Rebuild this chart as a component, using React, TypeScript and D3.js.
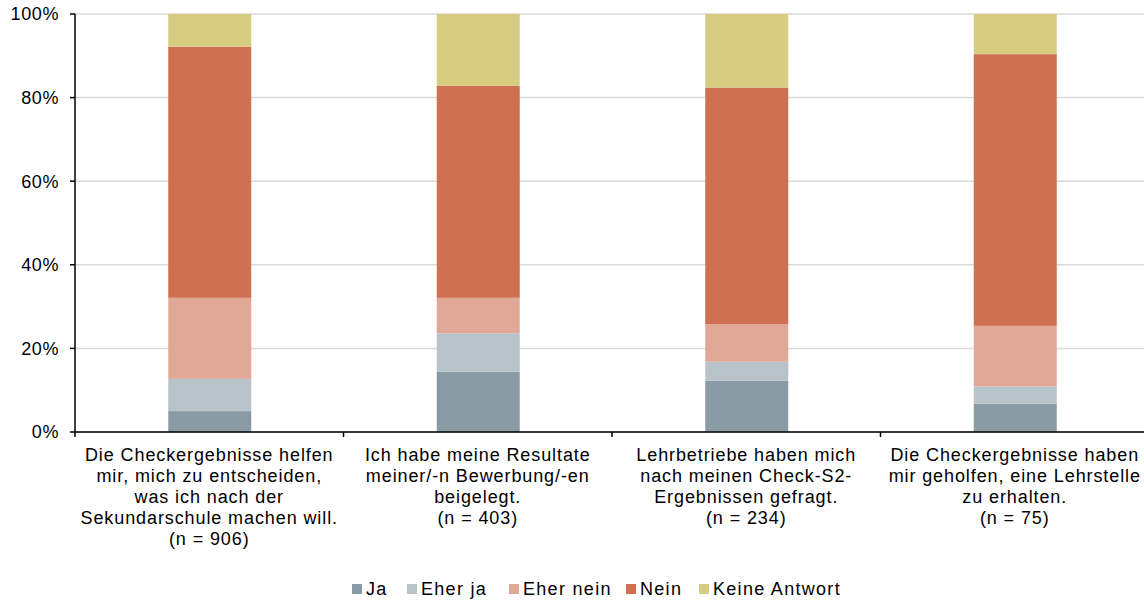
import React from "react";
import * as d3 from "d3";

const categories = [
  ["Die Checkergebnisse helfen", "mir, mich zu entscheiden,", "was ich nach der", "Sekundarschule machen will.", "(n = 906)"],
  ["Ich habe meine Resultate", "meiner/-n Bewerbung/-en", "beigelegt.", "(n = 403)"],
  ["Lehrbetriebe haben mich", "nach meinen Check-S2-", "Ergebnissen gefragt.", "(n = 234)"],
  ["Die Checkergebnisse haben", "mir geholfen, eine Lehrstelle", "zu erhalten.", "(n = 75)"],
];
const seriesNames = ["Ja", "Eher ja", "Eher nein", "Nein", "Keine Antwort"];
const ja = [5.0, 14.4, 12.3, 6.8];
const eherJa = [7.7, 9.2, 4.5, 4.1];
const eherNein = [19.4, 8.5, 9.0, 14.5];
const nein = [60.1, 50.7, 56.6, 65.0];
const keineAntwort = [7.8, 17.2, 17.6, 9.6];
const yTicks = [0, 20, 40, 60, 80, 100];
const colors = ["#8a9ba5", "#b7c3c8", "#e1a897", "#cf7052", "#d6cd82"];

const W = 1144;
const H = 600;
const left = 75;
const top = 14;
const bottom = 432;
const step = 268.5;
const barW = 83;
const font = "'Liberation Sans', Arial, sans-serif";

export default function App() {
  const ids = categories.map((_, i) => String(i));
  const x = d3.scaleBand<string>().domain(ids).range([left, left + step * ids.length]).padding(0);
  const y = d3.scaleLinear().domain([0, 100]).range([bottom, top]);
  const seriesVals = [ja, eherJa, eherNein, nein, keineAntwort];
  const rows = ids.map((id, i) => {
    const r: any = { id };
    seriesNames.forEach((s, k) => (r[s] = seriesVals[k][i]));
    return r;
  });
  const stacked = d3.stack<any>().keys(seriesNames)(rows);

  const legendX = [352, 407, 509, 626, 699];

  return (
    <svg width={W} height={H} style={{ position: "absolute", left: 0, top: 0, background: "#fff" }}>
      {yTicks.map((t) => (
        <line key={"g" + t} x1={left} x2={W} y1={y(t)} y2={y(t)} stroke="#d9d9d9" strokeWidth={1.5} />
      ))}
      {stacked.map((layer, k) => (
        <g key={layer.key} fill={colors[k]}>
          {layer.map((d, i) => (
            <rect
              key={i}
              x={(x(ids[i]) as number) + x.bandwidth() / 2 - barW / 2 + 0.5}
              width={barW}
              y={y(d[1])}
              height={y(d[0]) - y(d[1])}
            />
          ))}
        </g>
      ))}
      {/* y axis */}
      <line x1={left} x2={left} y1={top} y2={bottom} stroke="#000" strokeWidth={1.5} />
      {yTicks.map((t) => (
        <g key={"t" + t}>
          <line x1={left - 5} x2={left} y1={y(t)} y2={y(t)} stroke="#000" strokeWidth={1.5} />
          <text
            x={59}
            y={y(t)}
            dy="0.35em"
            textAnchor="end"
            fontFamily={font}
            fontSize={18}
            letterSpacing={0.6}
            fill="#000"
          >
            {t}%
          </text>
        </g>
      ))}
      {/* x axis */}
      <line x1={left} x2={W} y1={bottom} y2={bottom} stroke="#000" strokeWidth={1.5} />
      {ids.map((id) => (
        <line
          key={"xt" + id}
          x1={x(id) as number}
          x2={x(id) as number}
          y1={bottom}
          y2={bottom + 5}
          stroke="#000"
          strokeWidth={1.5}
        />
      ))}
      {ids.map((id, i) => (
        <text
          key={"xl" + id}
          x={(x(id) as number) + x.bandwidth() / 2}
          y={461}
          textAnchor="middle"
          fontFamily={font}
          fontSize={18}
          letterSpacing={0.9}
          fill="#000"
        >
          {categories[i].map((line, j) => (
            <tspan key={j} x={(x(id) as number) + x.bandwidth() / 2} dy={j === 0 ? 0 : 21}>
              {line}
            </tspan>
          ))}
        </text>
      ))}
      {/* legend */}
      {seriesNames.map((s, k) => (
        <g key={"lg" + s}>
          <rect x={legendX[k]} y={584} width={10} height={10} fill={colors[k]} />
          <text
            x={legendX[k] + 14}
            y={589}
            dy="0.35em"
            fontFamily={font}
            fontSize={18}
            letterSpacing={1.3}
            fill="#000"
          >
            {s}
          </text>
        </g>
      ))}
    </svg>
  );
}
